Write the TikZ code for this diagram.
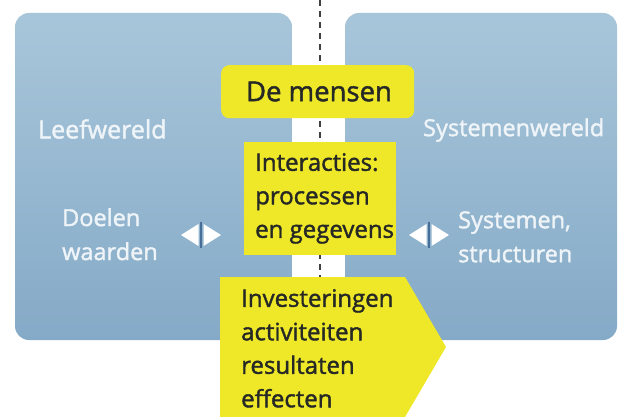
\documentclass[tikz,border=0pt]{standalone}
\usepackage{fontspec}
\setmainfont{Open Sans}[FakeBold=1.6]
\usetikzlibrary{calc}
\definecolor{bluetop}{RGB}{168,198,218}
\definecolor{bluebot}{RGB}{133,170,199}
\definecolor{ylw}{RGB}{238,232,40}
\definecolor{txtdark}{RGB}{38,40,38}
\definecolor{txtlight}{RGB}{238,244,248}
\definecolor{sep}{RGB}{70,110,150}
\tikzset{
  world/.style={rounded corners=14pt, top color=bluetop, bottom color=bluebot, draw=none},
  ybox/.style={fill=ylw, draw=none},
  darktxt/.style={text=txtdark, font=\fontsize{24}{33.5}\selectfont, align=left, inner sep=0pt},
  lighttxt/.style={text=txtlight, font=\fontsize{23.5}{34}\selectfont, align=left, inner sep=0pt},
  tri/.style={fill=white, draw=none},
  divider/.style={draw=black!75, line width=1.6pt, dash pattern=on 6pt off 5pt}
}
\begin{document}
\begin{tikzpicture}[x=1pt, y=-1pt]
\useasboundingbox (0,0) rectangle (621,417);
% worlds
\path[world] (15,13) rectangle (292,340);
\path[world] (345,13) rectangle (617,340);
% dashed divider
\coordinate (dtop) at (320,0);
\coordinate (dbot) at (320,290);
\draw[divider] (dtop) -- (dbot);
% De mensen
\node[ybox, rounded corners=8pt, minimum width=193pt, minimum height=53pt, anchor=north west, inner sep=0pt] (mensen) at (221,65) {};
\node[darktxt, font=\fontsize{27.5}{33}\selectfont] (mensentxt) at (319,91.5) {De mensen};
% Interacties
\node[ybox, minimum width=152pt, minimum height=113pt, anchor=north west, inner sep=0pt] (inter) at (244,142) {};
\node[darktxt, anchor=north west] (intertxt) at (255,153) {Interacties:\\processen\\en gegevens};
% pentagon arrow
\coordinate (p1) at (220,277);
\coordinate (p2) at (405,277);
\coordinate (p3) at (446,347);
\coordinate (p4) at (405,417);
\coordinate (p5) at (220,417);
\path[ybox] (p1) -- (p2) -- (p3) -- (p4) -- (p5) -- cycle;
\node[darktxt, anchor=north west] (invtxt) at (241,289) {Investeringen\\activiteiten\\resultaten\\effecten};
% labels
\node[lighttxt, anchor=west, font=\fontsize{25}{34}\selectfont] (leef) at (38,129) {Leefwereld};
\node[lighttxt, anchor=west] (sys) at (423,130) {Systemenwereld};
\node[lighttxt, anchor=north west] (doelen) at (62,208) {Doelen\\waarden};
\node[lighttxt, anchor=north west] (systemen) at (458,211) {Systemen,\\structuren};
% double arrow glyphs
\foreach \cx/\nm in {201/la, 429/ra}{
  \coordinate (\nm) at (\cx,235);
  \path[tri] ($(\nm)+(-2.5,-11)$) -- ($(\nm)+(-2.5,11)$) -- ($(\nm)+(-20,0)$) -- cycle;
  \path[tri] ($(\nm)+(2.5,-11)$) -- ($(\nm)+(2.5,11)$) -- ($(\nm)+(20,0)$) -- cycle;
  \draw[sep, line width=1.6pt] ($(\nm)+(0,-13)$) -- ($(\nm)+(0,13)$);
}
\end{tikzpicture}
\end{document}
